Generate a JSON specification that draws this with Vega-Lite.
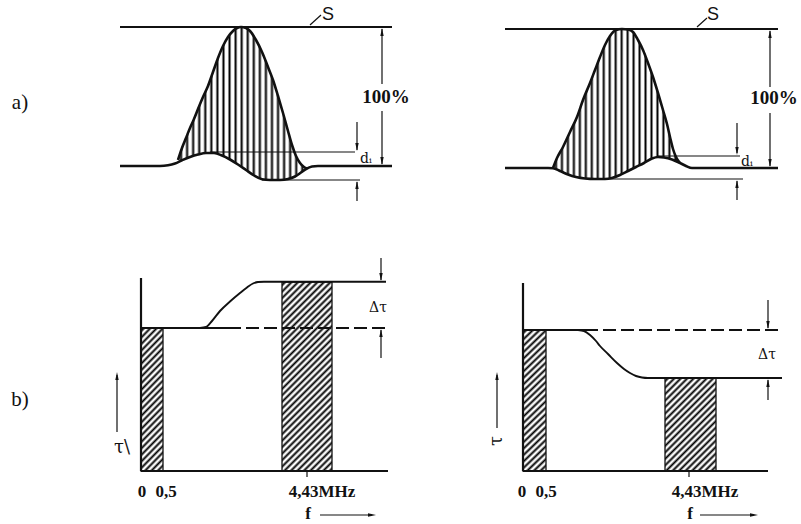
{
"$schema": "https://vega.github.io/schema/vega-lite/v6.json",
"width": 801, "height": 524,
"autosize": {"type": "fit", "contains": "padding"},
"padding": 0,
"background": "white",
"config": {"view": {"stroke": null}},
"datasets": {
 "pulse": [
  {"panel":"left","x":178,"top":160,"bot":161.8},
  {"panel":"left","x":182,"top":148,"bot":160.3},
  {"panel":"left","x":186,"top":138,"bot":158.6},
  {"panel":"left","x":190,"top":128,"bot":157},
  {"panel":"left","x":194,"top":119,"bot":155.7},
  {"panel":"left","x":198,"top":109,"bot":154.5},
  {"panel":"left","x":203,"top":97,"bot":153.5},
  {"panel":"left","x":208,"top":86,"bot":153},
  {"panel":"left","x":213,"top":72,"bot":153},
  {"panel":"left","x":218,"top":58,"bot":154.2},
  {"panel":"left","x":223,"top":46,"bot":156},
  {"panel":"left","x":228,"top":37,"bot":158.5},
  {"panel":"left","x":233,"top":31,"bot":161.3},
  {"panel":"left","x":237,"top":28,"bot":163.5},
  {"panel":"left","x":241,"top":27,"bot":166.5},
  {"panel":"left","x":246,"top":28,"bot":170},
  {"panel":"left","x":250,"top":31,"bot":172.8},
  {"panel":"left","x":256,"top":40,"bot":176.5},
  {"panel":"left","x":262,"top":52,"bot":179.3},
  {"panel":"left","x":268,"top":67,"bot":179.8},
  {"panel":"left","x":273,"top":80,"bot":180},
  {"panel":"left","x":278,"top":96,"bot":180},
  {"panel":"left","x":283,"top":113,"bot":179.6},
  {"panel":"left","x":288,"top":131,"bot":179},
  {"panel":"left","x":292,"top":145,"bot":177.6},
  {"panel":"left","x":296,"top":156,"bot":175.3},
  {"panel":"left","x":300,"top":163,"bot":172.3},
  {"panel":"left","x":304,"top":167,"bot":169.8},
  {"panel":"left","x":307,"top":168.5,"bot":168.5},
  {"panel":"right","x":553,"top":168,"bot":168.2},
  {"panel":"right","x":557,"top":158,"bot":169.5},
  {"panel":"right","x":563,"top":147,"bot":172},
  {"panel":"right","x":570,"top":132,"bot":175},
  {"panel":"right","x":577,"top":117,"bot":177.2},
  {"panel":"right","x":583,"top":100,"bot":178.2},
  {"panel":"right","x":590,"top":83,"bot":178.8},
  {"panel":"right","x":595,"top":70,"bot":179},
  {"panel":"right","x":600,"top":57,"bot":179},
  {"panel":"right","x":605,"top":45,"bot":179},
  {"panel":"right","x":610,"top":36,"bot":178.5},
  {"panel":"right","x":616,"top":30,"bot":176},
  {"panel":"right","x":622,"top":29,"bot":173.5},
  {"panel":"right","x":628,"top":29.5,"bot":171},
  {"panel":"right","x":633,"top":32,"bot":168.5},
  {"panel":"right","x":638,"top":40,"bot":166},
  {"panel":"right","x":643,"top":50,"bot":163.5},
  {"panel":"right","x":648,"top":63,"bot":160.7},
  {"panel":"right","x":653,"top":77,"bot":158.3},
  {"panel":"right","x":658,"top":93,"bot":157},
  {"panel":"right","x":663,"top":110,"bot":157.4},
  {"panel":"right","x":667,"top":124,"bot":158.5},
  {"panel":"right","x":670,"top":137,"bot":159},
  {"panel":"right","x":673,"top":149,"bot":160},
  {"panel":"right","x":676,"top":157,"bot":161.5},
  {"panel":"right","x":680,"top":163,"bot":163}
 ],
 "baseline": [
  {"curve":"left","x":120,"y":166},{"curve":"left","x":160,"y":166},{"curve":"left","x":168,"y":165.3},
  {"curve":"left","x":175,"y":163.5},{"curve":"left","x":182,"y":160.3},{"curve":"left","x":190,"y":157},
  {"curve":"left","x":198,"y":154.5},{"curve":"left","x":206,"y":153},{"curve":"left","x":214,"y":153},
  {"curve":"left","x":222,"y":155.5},{"curve":"left","x":230,"y":159.5},{"curve":"left","x":238,"y":164.5},
  {"curve":"left","x":246,"y":170},{"curve":"left","x":254,"y":175.5},{"curve":"left","x":262,"y":179.3},
  {"curve":"left","x":270,"y":180},{"curve":"left","x":280,"y":180},{"curve":"left","x":288,"y":179},
  {"curve":"left","x":295,"y":176.5},{"curve":"left","x":301,"y":172.5},{"curve":"left","x":306,"y":169},
  {"curve":"left","x":312,"y":166.5},{"curve":"left","x":318,"y":166},{"curve":"left","x":392,"y":166},
  {"curve":"right","x":505,"y":168},{"curve":"right","x":548,"y":168},{"curve":"right","x":553,"y":168.2},
  {"curve":"right","x":560,"y":171},{"curve":"right","x":568,"y":174.5},{"curve":"right","x":576,"y":177},
  {"curve":"right","x":585,"y":178.5},{"curve":"right","x":595,"y":179},{"curve":"right","x":605,"y":179},
  {"curve":"right","x":612,"y":178},{"curve":"right","x":620,"y":175},{"curve":"right","x":628,"y":171},
  {"curve":"right","x":636,"y":167},{"curve":"right","x":644,"y":163},{"curve":"right","x":652,"y":158.5},
  {"curve":"right","x":658,"y":157},{"curve":"right","x":664,"y":157.5},{"curve":"right","x":672,"y":159.5},
  {"curve":"right","x":680,"y":163},{"curve":"right","x":686,"y":166},{"curve":"right","x":692,"y":168},
  {"curve":"right","x":778,"y":168}
 ],
 "delay": [
  {"curve":"left","x":200,"y":328},{"curve":"left","x":206,"y":327},{"curve":"left","x":212,"y":321},
  {"curve":"left","x":220,"y":311},{"curve":"left","x":230,"y":301.5},{"curve":"left","x":240,"y":293},
  {"curve":"left","x":247,"y":287.5},{"curve":"left","x":253,"y":283.5},{"curve":"left","x":258,"y":282},
  {"curve":"left","x":264,"y":281.7},{"curve":"left","x":386,"y":281.7},
  {"curve":"right","x":578,"y":330},{"curve":"right","x":584,"y":331},{"curve":"right","x":590,"y":335},
  {"curve":"right","x":596,"y":341},{"curve":"right","x":600,"y":346},{"curve":"right","x":608,"y":354},
  {"curve":"right","x":617,"y":363},{"curve":"right","x":624,"y":369},{"curve":"right","x":630,"y":373},
  {"curve":"right","x":636,"y":376},{"curve":"right","x":642,"y":377.5},{"curve":"right","x":648,"y":378},
  {"curve":"right","x":782,"y":378}
 ],
 "bands": [
  {"band":"0-0,5","panel":"left","x":141,"x2":163,"y":328,"y2":471},
  {"band":"4,43","panel":"left","x":282,"x2":332,"y":282,"y2":471},
  {"band":"0-0,5","panel":"right","x":523,"x2":546,"y":330,"y2":471},
  {"band":"4,43","panel":"right","x":665,"x2":716,"y":378,"y2":471}
 ],
 "rules": [
  {"role":"level","x":120,"y":27,"x2":392,"y2":27},
  {"role":"level","x":505,"y":29,"x2":778,"y2":29},
  {"role":"level","x":141,"y":278,"x2":141,"y2":471},
  {"role":"level","x":141,"y":471,"x2":388,"y2":471},
  {"role":"level","x":523,"y":283,"x2":523,"y2":471},
  {"role":"level","x":523,"y":471,"x2":768,"y2":471},
  {"role":"level","x":141,"y":328,"x2":228,"y2":328},
  {"role":"level","x":523,"y":330,"x2":585,"y2":330},
  {"role":"dimension","x":310,"y":25,"x2":321,"y2":15},
  {"role":"dimension","x":697,"y":27,"x2":707,"y2":18},
  {"role":"dimension","x":210,"y":152,"x2":355,"y2":152},
  {"role":"dimension","x":262,"y":180,"x2":360,"y2":180},
  {"role":"dimension","x":382,"y":29,"x2":382,"y2":84},
  {"role":"dimension","x":382,"y":111,"x2":382,"y2":164},
  {"role":"dimension","x":357,"y":122,"x2":357,"y2":150},
  {"role":"dimension","x":357,"y":182,"x2":357,"y2":201},
  {"role":"dimension","x":658,"y":156,"x2":740,"y2":156},
  {"role":"dimension","x":600,"y":179,"x2":743,"y2":179},
  {"role":"dimension","x":770,"y":31,"x2":770,"y2":87},
  {"role":"dimension","x":770,"y":113,"x2":770,"y2":166},
  {"role":"dimension","x":737,"y":123,"x2":737,"y2":153},
  {"role":"dimension","x":737,"y":181,"x2":737,"y2":200},
  {"role":"dimension","x":307,"y":471,"x2":307,"y2":477},
  {"role":"dimension","x":689,"y":471,"x2":689,"y2":477},
  {"role":"dimension","x":381,"y":258,"x2":381,"y2":280},
  {"role":"dimension","x":381,"y":330,"x2":381,"y2":358},
  {"role":"dimension","x":768,"y":300,"x2":768,"y2":328},
  {"role":"dimension","x":768,"y":380,"x2":768,"y2":400},
  {"role":"dimension","x":117,"y":432,"x2":117,"y2":375},
  {"role":"dimension","x":497,"y":428,"x2":497,"y2":375},
  {"role":"dimension","x":320,"y":515,"x2":372,"y2":515},
  {"role":"dimension","x":700,"y":515,"x2":754,"y2":515},
  {"role":"extension","x":228,"y":328,"x2":387,"y2":328},
  {"role":"extension","x":585,"y":330,"x2":783,"y2":330}
 ],
 "heads": [
  {"dir":"up","x":382,"y":32},{"dir":"down","x":382,"y":161},
  {"dir":"down","x":357,"y":147},{"dir":"up","x":357,"y":185},
  {"dir":"up","x":770,"y":34},{"dir":"down","x":770,"y":163},
  {"dir":"down","x":737,"y":151},{"dir":"up","x":737,"y":184},
  {"dir":"down","x":381,"y":277},{"dir":"up","x":381,"y":333},
  {"dir":"up","x":117,"y":376},{"dir":"right","x":372,"y":515},
  {"dir":"down","x":768,"y":325},{"dir":"up","x":768,"y":383},
  {"dir":"up","x":497,"y":376},{"dir":"right","x":754,"y":515}
 ],
 "labels": [
  {"role":"panel","text":"a)","x":20,"y":103},
  {"role":"panel","text":"b)","x":20,"y":400},
  {"role":"tick","text":"0","x":142,"y":492},
  {"role":"tick","text":"0,5","x":166,"y":492},
  {"role":"tick","text":"4,43MHz","x":322,"y":492},
  {"role":"tick","text":"0","x":522,"y":492},
  {"role":"tick","text":"0,5","x":546,"y":492},
  {"role":"tick","text":"4,43MHz","x":705,"y":492},
  {"role":"tick","text":"f","x":308,"y":514},
  {"role":"tick","text":"f","x":690,"y":514},
  {"role":"percent","text":"100%","x":386,"y":97},
  {"role":"percent","text":"100%","x":774,"y":98},
  {"role":"delta","text":"Δτ","x":378,"y":308},
  {"role":"delta","text":"Δτ","x":767,"y":355},
  {"role":"delta","text":"dᵢ","x":366,"y":159},
  {"role":"delta","text":"dᵢ","x":747,"y":162},
  {"role":"s","text":"S","x":328,"y":15},
  {"role":"s","text":"S","x":713,"y":15},
  {"role":"tau","text":"τ\\","x":122,"y":448},
  {"role":"tau-rot","text":"τ","x":497,"y":441}
 ]
},
"encoding": {
 "x": {"field":"x","type":"quantitative","scale":{"domain":[0,801],"nice":false,"zero":false},"axis":null},
 "y": {"field":"y","type":"quantitative","scale":{"domain":[0,524],"nice":false,"zero":false,"reverse":true},"axis":null}
},
"layer": [
 {
  "data":{"name":"pulse"},
  "mark":{"type":"area","interpolate":"monotone","opacity":1,"strokeWidth":0,
   "fill":{"gradient":"linear","x1":0,"y1":0,"x2":1,"y2":0,"stops":[
    {"offset":0.0075,"color":"white"},{"offset":0.0235,"color":"#000"},{"offset":0.0395,"color":"white"},
    {"offset":0.0545,"color":"white"},{"offset":0.0705,"color":"#000"},{"offset":0.0865,"color":"white"},
    {"offset":0.1015,"color":"white"},{"offset":0.1175,"color":"#000"},{"offset":0.1335,"color":"white"},
    {"offset":0.1485,"color":"white"},{"offset":0.1645,"color":"#000"},{"offset":0.1805,"color":"white"},
    {"offset":0.1955,"color":"white"},{"offset":0.2115,"color":"#000"},{"offset":0.2275,"color":"white"},
    {"offset":0.2425,"color":"white"},{"offset":0.2585,"color":"#000"},{"offset":0.2745,"color":"white"},
    {"offset":0.2895,"color":"white"},{"offset":0.3055,"color":"#000"},{"offset":0.3215,"color":"white"},
    {"offset":0.3365,"color":"white"},{"offset":0.3525,"color":"#000"},{"offset":0.3685,"color":"white"},
    {"offset":0.3835,"color":"white"},{"offset":0.3995,"color":"#000"},{"offset":0.4155,"color":"white"},
    {"offset":0.4305,"color":"white"},{"offset":0.4465,"color":"#000"},{"offset":0.4625,"color":"white"},
    {"offset":0.4775,"color":"white"},{"offset":0.4935,"color":"#000"},{"offset":0.5095,"color":"white"},
    {"offset":0.5245,"color":"white"},{"offset":0.5405,"color":"#000"},{"offset":0.5565,"color":"white"},
    {"offset":0.5715,"color":"white"},{"offset":0.5875,"color":"#000"},{"offset":0.6035,"color":"white"},
    {"offset":0.6185,"color":"white"},{"offset":0.6345,"color":"#000"},{"offset":0.6505,"color":"white"},
    {"offset":0.6655,"color":"white"},{"offset":0.6815,"color":"#000"},{"offset":0.6975,"color":"white"},
    {"offset":0.7125,"color":"white"},{"offset":0.7285,"color":"#000"},{"offset":0.7445,"color":"white"},
    {"offset":0.7595,"color":"white"},{"offset":0.7755,"color":"#000"},{"offset":0.7915,"color":"white"},
    {"offset":0.8065,"color":"white"},{"offset":0.8225,"color":"#000"},{"offset":0.8385,"color":"white"},
    {"offset":0.8535,"color":"white"},{"offset":0.8695,"color":"#000"},{"offset":0.8855,"color":"white"},
    {"offset":0.9005,"color":"white"},{"offset":0.9165,"color":"#000"},{"offset":0.9325,"color":"white"},
    {"offset":0.9475,"color":"white"},{"offset":0.9635,"color":"#000"},{"offset":0.9795,"color":"white"}
   ]}},
  "encoding":{
   "y":{"field":"top","type":"quantitative","scale":{"domain":[0,524],"nice":false,"zero":false,"reverse":true},"axis":null},
   "y2":{"field":"bot"},
   "detail":{"field":"panel"}
  }
 },
 {
  "data":{"name":"bands"},
  "transform":[{"filter":"datum.band == '0-0,5'"}],
  "mark":{"type":"rect","stroke":"#111","strokeWidth":1.3,
   "fill":{"gradient":"linear","x1":0,"y1":0,"x2":0.26,"y2":1.65,"stops":[
    {"offset":0.002,"color":"white"},{"offset":0.0135,"color":"#000"},{"offset":0.025,"color":"white"},
    {"offset":0.029,"color":"white"},{"offset":0.0405,"color":"#000"},{"offset":0.052,"color":"white"},
    {"offset":0.056,"color":"white"},{"offset":0.0675,"color":"#000"},{"offset":0.079,"color":"white"},
    {"offset":0.083,"color":"white"},{"offset":0.0945,"color":"#000"},{"offset":0.106,"color":"white"},
    {"offset":0.11,"color":"white"},{"offset":0.1215,"color":"#000"},{"offset":0.133,"color":"white"},
    {"offset":0.137,"color":"white"},{"offset":0.1485,"color":"#000"},{"offset":0.16,"color":"white"},
    {"offset":0.164,"color":"white"},{"offset":0.1755,"color":"#000"},{"offset":0.187,"color":"white"},
    {"offset":0.191,"color":"white"},{"offset":0.2025,"color":"#000"},{"offset":0.214,"color":"white"},
    {"offset":0.218,"color":"white"},{"offset":0.2295,"color":"#000"},{"offset":0.241,"color":"white"},
    {"offset":0.245,"color":"white"},{"offset":0.2565,"color":"#000"},{"offset":0.268,"color":"white"},
    {"offset":0.272,"color":"white"},{"offset":0.2835,"color":"#000"},{"offset":0.295,"color":"white"},
    {"offset":0.299,"color":"white"},{"offset":0.3105,"color":"#000"},{"offset":0.322,"color":"white"},
    {"offset":0.326,"color":"white"},{"offset":0.3375,"color":"#000"},{"offset":0.349,"color":"white"},
    {"offset":0.353,"color":"white"},{"offset":0.3645,"color":"#000"},{"offset":0.376,"color":"white"},
    {"offset":0.38,"color":"white"},{"offset":0.3915,"color":"#000"},{"offset":0.403,"color":"white"},
    {"offset":0.407,"color":"white"},{"offset":0.4185,"color":"#000"},{"offset":0.43,"color":"white"},
    {"offset":0.434,"color":"white"},{"offset":0.4455,"color":"#000"},{"offset":0.457,"color":"white"},
    {"offset":0.461,"color":"white"},{"offset":0.4725,"color":"#000"},{"offset":0.484,"color":"white"},
    {"offset":0.488,"color":"white"},{"offset":0.4995,"color":"#000"},{"offset":0.511,"color":"white"},
    {"offset":0.515,"color":"white"},{"offset":0.5265,"color":"#000"},{"offset":0.538,"color":"white"},
    {"offset":0.542,"color":"white"},{"offset":0.5535,"color":"#000"},{"offset":0.565,"color":"white"},
    {"offset":0.569,"color":"white"},{"offset":0.5805,"color":"#000"},{"offset":0.592,"color":"white"},
    {"offset":0.596,"color":"white"},{"offset":0.6075,"color":"#000"},{"offset":0.619,"color":"white"},
    {"offset":0.623,"color":"white"},{"offset":0.6345,"color":"#000"},{"offset":0.646,"color":"white"},
    {"offset":0.65,"color":"white"},{"offset":0.6615,"color":"#000"},{"offset":0.673,"color":"white"},
    {"offset":0.677,"color":"white"},{"offset":0.6885,"color":"#000"},{"offset":0.7,"color":"white"},
    {"offset":0.704,"color":"white"},{"offset":0.7155,"color":"#000"},{"offset":0.727,"color":"white"}
   ]}},
  "encoding":{"x2":{"field":"x2"},"y2":{"field":"y2"}}
 },
 {
  "data":{"name":"bands"},
  "transform":[{"filter":"datum.band == '4,43' && datum.panel == 'left'"}],
  "mark":{"type":"rect","stroke":"#111","strokeWidth":1.3,
   "fill":{"gradient":"linear","x1":0,"y1":0,"x2":0.314,"y2":1.187,"stops":[
    {"offset":0.002,"color":"white"},{"offset":0.0135,"color":"#000"},{"offset":0.025,"color":"white"},
    {"offset":0.029,"color":"white"},{"offset":0.0405,"color":"#000"},{"offset":0.052,"color":"white"},
    {"offset":0.056,"color":"white"},{"offset":0.0675,"color":"#000"},{"offset":0.079,"color":"white"},
    {"offset":0.083,"color":"white"},{"offset":0.0945,"color":"#000"},{"offset":0.106,"color":"white"},
    {"offset":0.11,"color":"white"},{"offset":0.1215,"color":"#000"},{"offset":0.133,"color":"white"},
    {"offset":0.137,"color":"white"},{"offset":0.1485,"color":"#000"},{"offset":0.16,"color":"white"},
    {"offset":0.164,"color":"white"},{"offset":0.1755,"color":"#000"},{"offset":0.187,"color":"white"},
    {"offset":0.191,"color":"white"},{"offset":0.2025,"color":"#000"},{"offset":0.214,"color":"white"},
    {"offset":0.218,"color":"white"},{"offset":0.2295,"color":"#000"},{"offset":0.241,"color":"white"},
    {"offset":0.245,"color":"white"},{"offset":0.2565,"color":"#000"},{"offset":0.268,"color":"white"},
    {"offset":0.272,"color":"white"},{"offset":0.2835,"color":"#000"},{"offset":0.295,"color":"white"},
    {"offset":0.299,"color":"white"},{"offset":0.3105,"color":"#000"},{"offset":0.322,"color":"white"},
    {"offset":0.326,"color":"white"},{"offset":0.3375,"color":"#000"},{"offset":0.349,"color":"white"},
    {"offset":0.353,"color":"white"},{"offset":0.3645,"color":"#000"},{"offset":0.376,"color":"white"},
    {"offset":0.38,"color":"white"},{"offset":0.3915,"color":"#000"},{"offset":0.403,"color":"white"},
    {"offset":0.407,"color":"white"},{"offset":0.4185,"color":"#000"},{"offset":0.43,"color":"white"},
    {"offset":0.434,"color":"white"},{"offset":0.4455,"color":"#000"},{"offset":0.457,"color":"white"},
    {"offset":0.461,"color":"white"},{"offset":0.4725,"color":"#000"},{"offset":0.484,"color":"white"},
    {"offset":0.488,"color":"white"},{"offset":0.4995,"color":"#000"},{"offset":0.511,"color":"white"},
    {"offset":0.515,"color":"white"},{"offset":0.5265,"color":"#000"},{"offset":0.538,"color":"white"},
    {"offset":0.542,"color":"white"},{"offset":0.5535,"color":"#000"},{"offset":0.565,"color":"white"},
    {"offset":0.569,"color":"white"},{"offset":0.5805,"color":"#000"},{"offset":0.592,"color":"white"},
    {"offset":0.596,"color":"white"},{"offset":0.6075,"color":"#000"},{"offset":0.619,"color":"white"},
    {"offset":0.623,"color":"white"},{"offset":0.6345,"color":"#000"},{"offset":0.646,"color":"white"},
    {"offset":0.65,"color":"white"},{"offset":0.6615,"color":"#000"},{"offset":0.673,"color":"white"},
    {"offset":0.677,"color":"white"},{"offset":0.6885,"color":"#000"},{"offset":0.7,"color":"white"},
    {"offset":0.704,"color":"white"},{"offset":0.7155,"color":"#000"},{"offset":0.727,"color":"white"},
    {"offset":0.731,"color":"white"},{"offset":0.7425,"color":"#000"},{"offset":0.754,"color":"white"},
    {"offset":0.758,"color":"white"},{"offset":0.7695,"color":"#000"},{"offset":0.781,"color":"white"},
    {"offset":0.785,"color":"white"},{"offset":0.7965,"color":"#000"},{"offset":0.808,"color":"white"},
    {"offset":0.812,"color":"white"},{"offset":0.8235,"color":"#000"},{"offset":0.835,"color":"white"},
    {"offset":0.839,"color":"white"},{"offset":0.8505,"color":"#000"},{"offset":0.862,"color":"white"},
    {"offset":0.866,"color":"white"},{"offset":0.8775,"color":"#000"},{"offset":0.889,"color":"white"},
    {"offset":0.893,"color":"white"},{"offset":0.9045,"color":"#000"},{"offset":0.916,"color":"white"},
    {"offset":0.92,"color":"white"},{"offset":0.9315,"color":"#000"},{"offset":0.943,"color":"white"},
    {"offset":0.947,"color":"white"},{"offset":0.9585,"color":"#000"},{"offset":0.97,"color":"white"},
    {"offset":0.974,"color":"white"},{"offset":0.9855,"color":"#000"},{"offset":0.997,"color":"white"}
   ]}},
  "encoding":{"x2":{"field":"x2"},"y2":{"field":"y2"}}
 },
 {
  "data":{"name":"bands"},
  "transform":[{"filter":"datum.band == '4,43' && datum.panel == 'right'"}],
  "mark":{"type":"rect","stroke":"#111","strokeWidth":1.3,
   "fill":{"gradient":"linear","x1":0,"y1":0,"x2":1.088,"y2":1.984,"stops":[
    {"offset":0.002,"color":"white"},{"offset":0.0135,"color":"#000"},{"offset":0.025,"color":"white"},
    {"offset":0.029,"color":"white"},{"offset":0.0405,"color":"#000"},{"offset":0.052,"color":"white"},
    {"offset":0.056,"color":"white"},{"offset":0.0675,"color":"#000"},{"offset":0.079,"color":"white"},
    {"offset":0.083,"color":"white"},{"offset":0.0945,"color":"#000"},{"offset":0.106,"color":"white"},
    {"offset":0.11,"color":"white"},{"offset":0.1215,"color":"#000"},{"offset":0.133,"color":"white"},
    {"offset":0.137,"color":"white"},{"offset":0.1485,"color":"#000"},{"offset":0.16,"color":"white"},
    {"offset":0.164,"color":"white"},{"offset":0.1755,"color":"#000"},{"offset":0.187,"color":"white"},
    {"offset":0.191,"color":"white"},{"offset":0.2025,"color":"#000"},{"offset":0.214,"color":"white"},
    {"offset":0.218,"color":"white"},{"offset":0.2295,"color":"#000"},{"offset":0.241,"color":"white"},
    {"offset":0.245,"color":"white"},{"offset":0.2565,"color":"#000"},{"offset":0.268,"color":"white"},
    {"offset":0.272,"color":"white"},{"offset":0.2835,"color":"#000"},{"offset":0.295,"color":"white"},
    {"offset":0.299,"color":"white"},{"offset":0.3105,"color":"#000"},{"offset":0.322,"color":"white"},
    {"offset":0.326,"color":"white"},{"offset":0.3375,"color":"#000"},{"offset":0.349,"color":"white"},
    {"offset":0.353,"color":"white"},{"offset":0.3645,"color":"#000"},{"offset":0.376,"color":"white"},
    {"offset":0.38,"color":"white"},{"offset":0.3915,"color":"#000"},{"offset":0.403,"color":"white"},
    {"offset":0.407,"color":"white"},{"offset":0.4185,"color":"#000"},{"offset":0.43,"color":"white"},
    {"offset":0.434,"color":"white"},{"offset":0.4455,"color":"#000"},{"offset":0.457,"color":"white"},
    {"offset":0.461,"color":"white"},{"offset":0.4725,"color":"#000"},{"offset":0.484,"color":"white"},
    {"offset":0.488,"color":"white"},{"offset":0.4995,"color":"#000"},{"offset":0.511,"color":"white"},
    {"offset":0.515,"color":"white"},{"offset":0.5265,"color":"#000"},{"offset":0.538,"color":"white"},
    {"offset":0.542,"color":"white"},{"offset":0.5535,"color":"#000"},{"offset":0.565,"color":"white"},
    {"offset":0.569,"color":"white"},{"offset":0.5805,"color":"#000"},{"offset":0.592,"color":"white"},
    {"offset":0.596,"color":"white"},{"offset":0.6075,"color":"#000"},{"offset":0.619,"color":"white"}
   ]}},
  "encoding":{"x2":{"field":"x2"},"y2":{"field":"y2"}}
 },
 {
  "data":{"name":"pulse"},
  "mark":{"type":"line","interpolate":"monotone","color":"#111","strokeWidth":2.6,"strokeJoin":"round"},
  "encoding":{
   "y":{"field":"top","type":"quantitative","scale":{"domain":[0,524],"nice":false,"zero":false,"reverse":true},"axis":null},
   "detail":{"field":"panel"}
  }
 },
 {
  "data":{"name":"baseline"},
  "mark":{"type":"line","interpolate":"monotone","color":"#111","strokeWidth":2.6,"strokeJoin":"round"},
  "encoding":{"detail":{"field":"curve"}}
 },
 {
  "data":{"name":"delay"},
  "mark":{"type":"line","interpolate":"monotone","color":"#111","strokeWidth":1.9},
  "encoding":{"detail":{"field":"curve"}}
 },
 {
  "data":{"name":"rules"},
  "transform":[{"filter":"datum.role == 'level'"}],
  "mark":{"type":"rule","color":"#111","strokeWidth":2.2},
  "encoding":{"x2":{"field":"x2"},"y2":{"field":"y2"}}
 },
 {
  "data":{"name":"rules"},
  "transform":[{"filter":"datum.role == 'dimension'"}],
  "mark":{"type":"rule","color":"#111","strokeWidth":1.2},
  "encoding":{"x2":{"field":"x2"},"y2":{"field":"y2"}}
 },
 {
  "data":{"name":"rules"},
  "transform":[{"filter":"datum.role == 'extension'"}],
  "mark":{"type":"rule","color":"#111","strokeWidth":1.9,"strokeDash":[13,5]},
  "encoding":{"x2":{"field":"x2"},"y2":{"field":"y2"}}
 },
 {
  "data":{"name":"heads"},
  "mark":{"type":"point","filled":true,"color":"#111","opacity":1,"size":64},
  "encoding":{
   "shape":{"field":"dir","type":"nominal","legend":null,
    "scale":{"domain":["up","down","right"],"range":["M0,-1L0.42,1L-0.42,1Z","M0,1L0.42,-1L-0.42,-1Z","M1,0L-1,0.42L-1,-0.42Z"]}}
  }
 },
 {
  "data":{"name":"labels"},
  "transform":[{"filter":"datum.role == 'panel'"}],
  "mark":{"type":"text","font":"Liberation Serif","fontSize":21,"color":"#111","align":"center","baseline":"middle"},
  "encoding":{"text":{"field":"text"}}
 },
 {
  "data":{"name":"labels"},
  "transform":[{"filter":"datum.role == 'tick'"}],
  "mark":{"type":"text","font":"Liberation Serif","fontSize":17,"fontWeight":"bold","color":"#111","align":"center","baseline":"middle"},
  "encoding":{"text":{"field":"text"}}
 },
 {
  "data":{"name":"labels"},
  "transform":[{"filter":"datum.role == 'percent'"}],
  "mark":{"type":"text","font":"Liberation Serif","fontSize":19,"fontWeight":"bold","color":"#111","align":"center","baseline":"middle"},
  "encoding":{"text":{"field":"text"}}
 },
 {
  "data":{"name":"labels"},
  "transform":[{"filter":"datum.role == 'delta'"}],
  "mark":{"type":"text","font":"DejaVu Serif","fontSize":14,"color":"#111","align":"center","baseline":"middle"},
  "encoding":{"text":{"field":"text"}}
 },
 {
  "data":{"name":"labels"},
  "transform":[{"filter":"datum.role == 's'"}],
  "mark":{"type":"text","font":"Liberation Sans","fontSize":18,"color":"#111","align":"center","baseline":"middle"},
  "encoding":{"text":{"field":"text"}}
 },
 {
  "data":{"name":"labels"},
  "transform":[{"filter":"datum.role == 'tau'"}],
  "mark":{"type":"text","font":"DejaVu Serif","fontSize":18,"color":"#111","align":"center","baseline":"middle"},
  "encoding":{"text":{"field":"text"}}
 },
 {
  "data":{"name":"labels"},
  "transform":[{"filter":"datum.role == 'tau-rot'"}],
  "mark":{"type":"text","font":"DejaVu Serif","fontSize":18,"color":"#111","align":"center","baseline":"middle","angle":270},
  "encoding":{"text":{"field":"text"}}
 }
]
}
